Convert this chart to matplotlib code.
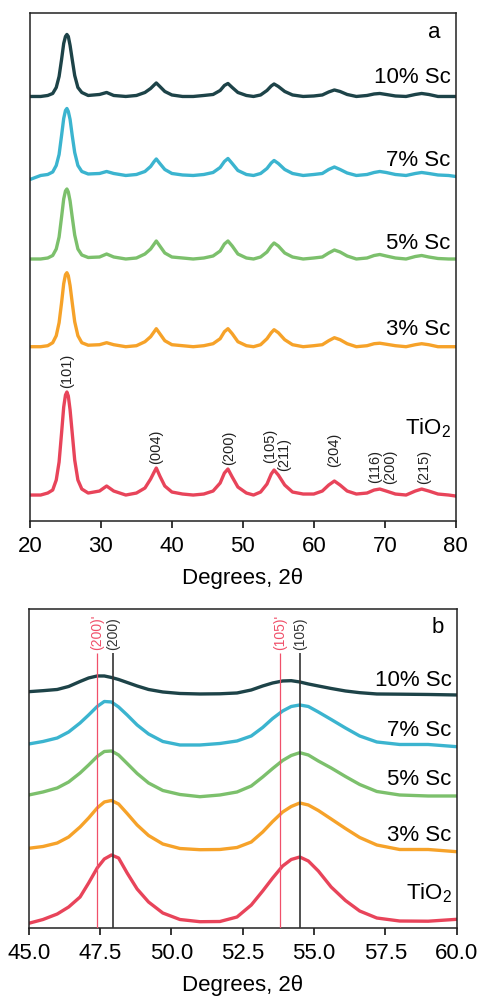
import matplotlib
matplotlib.use('Agg')
import matplotlib.pyplot as plt
import numpy as np

plt.rcParams['font.family'] = ['Liberation Sans', 'DejaVu Sans']
plt.rcParams['mathtext.default'] = 'regular'

samples = ['TiO$_2$', '3% Sc', '5% Sc', '7% Sc', '10% Sc']
colors = ['#e8445a', '#f6a229', '#7cc06c', '#3bb4cf', '#1d4348']

# panel a: 2theta grid and intensity above each baseline (a.u.)
x_a = [20.0, 21.5, 22.5, 23.2, 23.7, 24.1, 24.45, 24.75, 25.0, 25.2, 25.4, 25.65, 25.95,
       26.3, 26.75, 27.3, 28.2, 29.8, 30.8, 31.8, 33.5, 35.0, 36.2, 37.0, 37.5, 37.8,
       38.3, 39.0, 40.0, 41.5, 43.0, 44.5, 45.8, 46.8, 47.4, 47.9, 48.5, 49.3, 50.5,
       51.5, 52.5, 53.4, 54.0, 54.4, 55.0, 55.9, 57.0, 58.5, 60.0, 61.2, 62.1, 62.9,
       63.7, 64.7, 66.0, 67.5, 68.5, 69.3, 70.2, 71.5, 73.0, 74.3, 75.2, 76.2, 77.5,
       79.0, 80.0]
tio2_a = [0, 0, 2, 5, 15, 33, 62, 88, 100, 103, 99, 85, 62, 35, 15, 6, 2,
          4, 9, 4, 0, 2, 7, 16, 23, 27, 19, 9, 3, 1,
          0, 1, 4, 12, 22, 26, 18, 8, 2, 0,
          3, 11, 21, 25, 20, 10, 3, 1,
          1, 4, 10, 14, 10, 4, 1,
          2, 5, 6, 4, 1,
          0, 4, 6, 4, 1, 0, -1]
sc3_a = [0, 0, 1, 4, 11, 24, 44, 63, 72, 74, 71, 61, 44, 25, 11, 4, 1.5,
         2, 4, 2, 0, 1, 5, 10, 15, 18, 13, 6, 2, 1,
         0, 1, 3, 8, 15, 18, 13, 5, 1, 0,
         2, 8, 14, 17, 14, 7, 2, 0,
         1, 2, 6, 9, 7, 3, 0,
         1, 3, 3.5, 2.5, 1,
         0, 2, 3, 2, 0, 0, 0]
sc5_a = [0, 0, 1, 3.5, 10, 22, 42, 60, 68, 70, 67, 58, 42, 24, 10, 4, 1.5,
         2, 5, 2, 0, 1, 5, 10, 15, 18, 13, 6, 2, 1,
         0, 1, 3, 8, 15, 18, 13, 5, 1, 0,
         2, 7, 13, 16, 13, 6, 2, 0,
         1, 2, 6, 9, 7, 3, 0,
         1, 3.5, 4.5, 3, 1,
         0, 2.5, 3.5, 2, 0.5, 0, 0]
sc7_a = [-4, 0, 1, 3.5, 10, 21, 40, 57, 65, 67, 64, 56, 40, 23, 10, 4, 1.5,
         2, 4, 2, 0, 1, 4, 9, 14, 16.5, 12, 6, 2, 0.5,
         0, 1, 3, 8, 14, 17, 12, 5, 1, 0,
         2, 7, 12.5, 15, 12, 6, 2, 0,
         1, 2, 6, 8.5, 6, 2.5, 0,
         1, 3, 4, 3, 1,
         0, 2, 3, 2, 0.5, 0, -1]
sc10_a = [0, 0, 1, 3, 9, 20, 37, 53, 60, 62, 60, 51, 37, 21, 9, 4, 1,
          2, 4, 1, 0, 1, 4, 8, 11.5, 13.5, 10, 5, 1.5, 0,
          0, 1, 2, 6, 11, 13, 9, 4, 1, 0,
          1.5, 6, 10.5, 12.5, 10, 5, 1.5, 0,
          0.5, 1.5, 4.5, 6.5, 5, 2, 0,
          1, 2.5, 3, 2, 0.5,
          0, 2, 3, 2, 0, 0, 0]
offsets_a = [26, 174.3, 262, 345.5, 424.5]

hkl_text = ['(101)', '(004)', '(200)', '(105)', '(211)', '(204)', '(116)', '(200)', '(215)']
hkl_x = [25.3, 37.76, 48.03, 53.78, 55.77, 62.92, 68.7, 70.7, 75.5]
hkl_y = [132.7, 57, 56, 57.7, 50.3, 54.3, 37.7, 37, 37]

# panel b: zoom 45-60 deg, stacked intensities (a.u.)
x_b = [45.0, 45.5, 46.0, 46.4, 46.8, 47.1, 47.4, 47.65, 47.9, 48.15, 48.45, 48.8, 49.2,
       49.7, 50.3, 51.0, 51.7, 52.3, 52.8, 53.2, 53.55, 53.9, 54.2, 54.5, 54.8, 55.15,
       55.6, 56.1, 56.6, 57.2, 58.0, 59.0, 60.0]
tio2_b = [4.7, 8.5, 14, 21, 31, 45, 60, 69, 73, 70, 55, 39, 26, 15, 8.5, 6.3, 6.5,
          11, 23, 37, 50, 62, 68.5, 71, 67, 57, 41, 27.5, 17, 10, 7, 6.8, 8.7]
sc3_b = [79.7, 81.5, 85, 91, 101, 110, 120, 126, 127.5, 124, 114.5, 103, 92.5, 84, 79.5,
         78.3, 78.5, 80.5, 86, 96, 106.5, 116, 121.5, 125, 123, 117.5, 109, 99.5, 90.5,
         83, 78.5, 78.5, 76.3]
sc5_b = [133, 136, 140, 146, 155, 163, 171.5, 176.5, 177, 173, 164.5, 154.5, 145, 137.5,
         133.5, 131.3, 133, 136, 142, 151, 159.5, 167.5, 172.5, 175.3, 173, 167, 160,
         151.5, 143.5, 136.5, 133, 132, 132]
sc7_b = [184, 186.5, 190, 196, 205, 213, 221.5, 226.5, 226, 221, 213, 203, 194, 186.5,
         183, 183, 184.5, 187, 192, 200.5, 209.5, 217, 221.5, 223, 221.5, 216, 208.5,
         200, 192, 186, 183.5, 183.5, 181.3]
sc10_b = [236.3, 237.3, 238.5, 241.5, 246.5, 250, 252, 252, 250.5, 248.5, 245.5, 242,
          238.5, 236, 234.5, 234, 234.2, 235, 238, 242, 245, 247, 247.3, 246, 244, 242,
          239.5, 237, 235.3, 234, 233.8, 233.5, 233]

ref_x = [47.4, 47.95, 53.8, 54.5]
ref_text = ["(200)'", '(200)', "(105)'", '(105)']
ref_col = ['#f0506a', '#333333', '#f0506a', '#333333']

label_y_a = [87, 186, 271.7, 355, 437.7]
label_y_b = [28.7, 87.3, 143, 192, 242]

fig = plt.figure(figsize=(4.8, 9.97), dpi=100)
ax1 = fig.add_axes([0.0625, 0.4774, 0.8869, 0.5099])
ax2 = fig.add_axes([0.0598, 0.0692, 0.8917, 0.3200])

curves_a = [tio2_a, sc3_a, sc5_a, sc7_a, sc10_a]
for ys, off, c in zip(curves_a, offsets_a, colors):
    ax1.plot(x_a, np.array(ys) + off, color=c, lw=2.4, solid_joinstyle='round')
for s, yl in zip(samples, label_y_a):
    ax1.text(79.3, yl, s, ha='right', va='baseline', fontsize=16)
ax1.text(77.9, 482.7, 'a', ha='right', va='baseline', fontsize=16)
for t, hx, hy in zip(hkl_text, hkl_x, hkl_y):
    ax1.text(hx, hy, t, rotation=90, ha='center', va='bottom', fontsize=10.5, color='#222222')
ax1.set_xlim(20, 80)
ax1.set_ylim(0, 508.3)
ax1.set_xticks(np.arange(20, 81, 10))

curves_b = [tio2_b, sc3_b, sc5_b, sc7_b, sc10_b]
for ys, c in zip(curves_b, colors):
    ax2.plot(x_b, ys, color=c, lw=2.4, solid_joinstyle='round')
for rx, rt, rc in zip(ref_x, ref_text, ref_col):
    lw = 0.9 if rc != '#333333' else 1.2
    ax2.vlines(rx, 0, 275, color=rc, lw=lw, zorder=3)
    ax2.text(rx, 278, rt, rotation=90, ha='center', va='bottom', fontsize=10, color=rc)
for s, yl in zip(samples, label_y_b):
    ax2.text(59.82, yl, s, ha='right', va='baseline', fontsize=16)
ax2.text(59.56, 294.7, 'b', ha='right', va='baseline', fontsize=16)
ax2.set_xlim(45, 60)
ax2.set_ylim(0, 319)
ax2.set_xticks(np.arange(45, 60.1, 2.5))
ax2.set_xticklabels(['%.1f' % v for v in np.arange(45, 60.1, 2.5)])

for ax in (ax1, ax2):
    ax.set_yticks([])
    ax.set_xlabel('Degrees, 2θ', fontsize=16, labelpad=8)
    ax.tick_params(axis='x', direction='out', length=5, width=1.1, labelsize=16, pad=6)
    for sp in ax.spines.values():
        sp.set_linewidth(1.1)
        sp.set_color('#222222')

plt.savefig('out.png', dpi=100)
